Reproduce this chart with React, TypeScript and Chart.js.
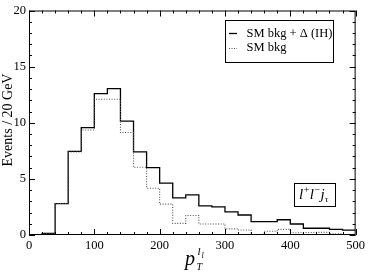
import React, { useEffect, useRef } from "react";
import { Chart, registerables } from "chart.js";

Chart.register(...registerables);

// Histogram bins (left edges, 20 GeV wide) and contents
const binEdges = [0, 20, 40, 60, 80, 100, 120, 140, 160, 180, 200, 220, 240, 260, 280, 300, 320, 340, 360, 380, 400, 420, 440, 460, 480];
const xEnd = 500;
const signalValues = [0, 0.15, 2.8, 7.45, 9.57, 12.6, 13.04, 10.15, 7.4, 6.0, 4.62, 3.3, 3.58, 2.6, 2.5, 2.06, 1.78, 1.2, 1.2, 1.36, 0.98, 0.6, 0.6, 0.5, 0.43];
const bkgValues = [0, 0.1, 2.8, 7.4, 9.36, 12.1, 12.1, 9.13, 6.03, 4.17, 2.75, 1.04, 1.74, 0.98, 0.98, 0.55, 0.45, 0.05, 0.33, 0.5, 0.2, 0.22, 0.23, 0.1, 0.05];
const xTicks = [0, 100, 200, 300, 400, 500];
const yTicks = [0, 5, 10, 15, 20];
const legendLabels = ["SM bkg + \u0394 (IH)", "SM bkg"];
const yTitle = "Events / 20 GeV";

const SERIF = "'Liberation Serif', 'DejaVu Serif', serif";

function toPoints(vals: number[]) {
  const pts = binEdges.map((x, i) => ({ x, y: vals[i] }));
  pts.push({ x: xEnd, y: vals[vals.length - 1] });
  return pts;
}

const decorPlugin = {
  id: "decor",
  afterDraw(chart: any) {
    const ctx = chart.ctx as CanvasRenderingContext2D;
    const { left, right, top, bottom } = chart.chartArea;
    const xs = chart.scales.x;
    const ys = chart.scales.y;
    ctx.save();
    ctx.strokeStyle = "#000";
    ctx.lineWidth = 1;
    // frame
    ctx.strokeRect(left + 0.5, top + 0.5, right - left - 1, bottom - top - 1);
    // x ticks (bottom & top, inward)
    for (let v = 0; v <= 500; v += 20) {
      const px = Math.round(xs.getPixelForValue(v)) + 0.5;
      const len = v % 100 === 0 ? 6 : 3;
      ctx.beginPath();
      ctx.moveTo(px, bottom);
      ctx.lineTo(px, bottom - len);
      ctx.moveTo(px, top);
      ctx.lineTo(px, top + len);
      ctx.stroke();
    }
    for (let v = 0; v <= 20; v += 1) {
      const py = Math.round(ys.getPixelForValue(v)) + 0.5;
      const len = v % 5 === 0 ? 6 : 3;
      ctx.beginPath();
      ctx.moveTo(left, py);
      ctx.lineTo(left + len, py);
      ctx.moveTo(right, py);
      ctx.lineTo(right - len, py);
      ctx.stroke();
    }
    // y title
    ctx.fillStyle = "#000";
    ctx.font = `14px ${SERIF}`;
    ctx.textAlign = "center";
    ctx.textBaseline = "middle";
    ctx.save();
    ctx.translate(8, 120);
    ctx.rotate(-Math.PI / 2);
    ctx.fillText(yTitle, 0, 0);
    ctx.restore();
    // x title p_T^{l_l}
    ctx.textAlign = "left";
    ctx.textBaseline = "alphabetic";
    ctx.font = `italic 20px ${SERIF}`;
    ctx.fillText("p", 185, 265);
    ctx.font = `italic 10px ${SERIF}`;
    ctx.fillText("T", 196.5, 269.5);
    ctx.font = `italic 11px ${SERIF}`;
    ctx.fillText("l", 197.5, 255);
    ctx.font = `italic 8px ${SERIF}`;
    ctx.fillText("l", 201.5, 258);

    // legend box
    const lx1 = 225.5, ly1 = 20.5, lx2 = 333.5, ly2 = 62.5;
    ctx.strokeStyle = "#000";
    ctx.lineWidth = 1;
    ctx.strokeRect(lx1, ly1, lx2 - lx1, ly2 - ly1);
    ctx.beginPath();
    ctx.lineWidth = 1.3;
    ctx.moveTo(229, 33.5);
    ctx.lineTo(237, 33.5);
    ctx.stroke();
    ctx.beginPath();
    ctx.setLineDash([1, 1.5]);
    ctx.strokeStyle = "#555";
    ctx.lineWidth = 1;
    ctx.moveTo(229, 48.5);
    ctx.lineTo(237, 48.5);
    ctx.stroke();
    ctx.setLineDash([]);
    ctx.font = `12.5px ${SERIF}`;
    ctx.textBaseline = "middle";
    ctx.fillStyle = "#000";
    ctx.fillText(legendLabels[0], 246.5, 33.5);
    ctx.fillText(legendLabels[1], 246.5, 48);

    // process label box
    ctx.strokeStyle = "#000";
    ctx.strokeRect(294.5, 183.5, 41, 23);
    ctx.textBaseline = "alphabetic";
    let x = 299;
    const base = 198.5;
    ctx.font = `italic 15px ${SERIF}`;
    ctx.fillText("l", x, base);
    x += ctx.measureText("l").width + 0.5;
    ctx.font = `10px ${SERIF}`;
    ctx.fillText("+", x, base - 5.5);
    x += ctx.measureText("+").width + 0.5;
    ctx.font = `italic 15px ${SERIF}`;
    ctx.fillText("l", x, base);
    x += ctx.measureText("l").width + 0.5;
    ctx.font = `10px ${SERIF}`;
    ctx.fillText("\u2212", x, base - 5.5);
    x += ctx.measureText("\u2212").width + 0.5;
    ctx.font = `italic 15px ${SERIF}`;
    ctx.fillText("j", x, base);
    x += ctx.measureText("j").width + 0.3;
    ctx.font = `italic 9px ${SERIF}`;
    ctx.fillText("\u03c4", x, base + 3);
    ctx.restore();
  },
};

export default function App() {
  const ref = useRef<HTMLCanvasElement | null>(null);
  useEffect(() => {
    document.body.style.margin = "0";
    const canvas = ref.current!;
    const chart = new Chart(canvas, {
      type: "line",
      data: {
        datasets: [
          {
            label: legendLabels[1],
            data: toPoints(bkgValues),
            stepped: true,
            borderColor: "#555",
            borderWidth: 1.1,
            borderDash: [1, 1.6],
            pointRadius: 0,
            fill: false,
          },
          {
            label: legendLabels[0],
            data: toPoints(signalValues),
            stepped: true,
            borderColor: "#000",
            borderWidth: 1.3,
            pointRadius: 0,
            fill: false,
          },
        ],
      },
      options: {
        responsive: false,
        animation: false,
        layout: { padding: { top: 5, right: 9, left: 0, bottom: 0 } },
        plugins: { legend: { display: false }, tooltip: { enabled: false } },
        scales: {
          x: {
            type: "linear",
            min: 0,
            max: 500,
            afterFit: (s: any) => { s.height = 38; },
            afterBuildTicks: (s: any) => { s.ticks = xTicks.map((v) => ({ value: v })); },
            grid: { display: false, drawTicks: false },
            border: { display: false },
            ticks: { color: "#000", padding: 3, maxRotation: 0, font: { family: SERIF, size: 12.5 } },
          },
          y: {
            type: "linear",
            min: 0,
            max: 20,
            afterFit: (s: any) => { s.width = 29; },
            afterBuildTicks: (s: any) => { s.ticks = yTicks.map((v) => ({ value: v })); },
            grid: { display: false, drawTicks: false },
            border: { display: false },
            ticks: { color: "#000", padding: 3, font: { family: SERIF, size: 12.5 } },
          },
        },
      },
      plugins: [decorPlugin],
    } as any);
    return () => chart.destroy();
  }, []);
  return (
    <div style={{ position: "absolute", left: 0, top: 0, width: 368, height: 273 }}>
      <canvas ref={ref} width={368} height={273} />
    </div>
  );
}
